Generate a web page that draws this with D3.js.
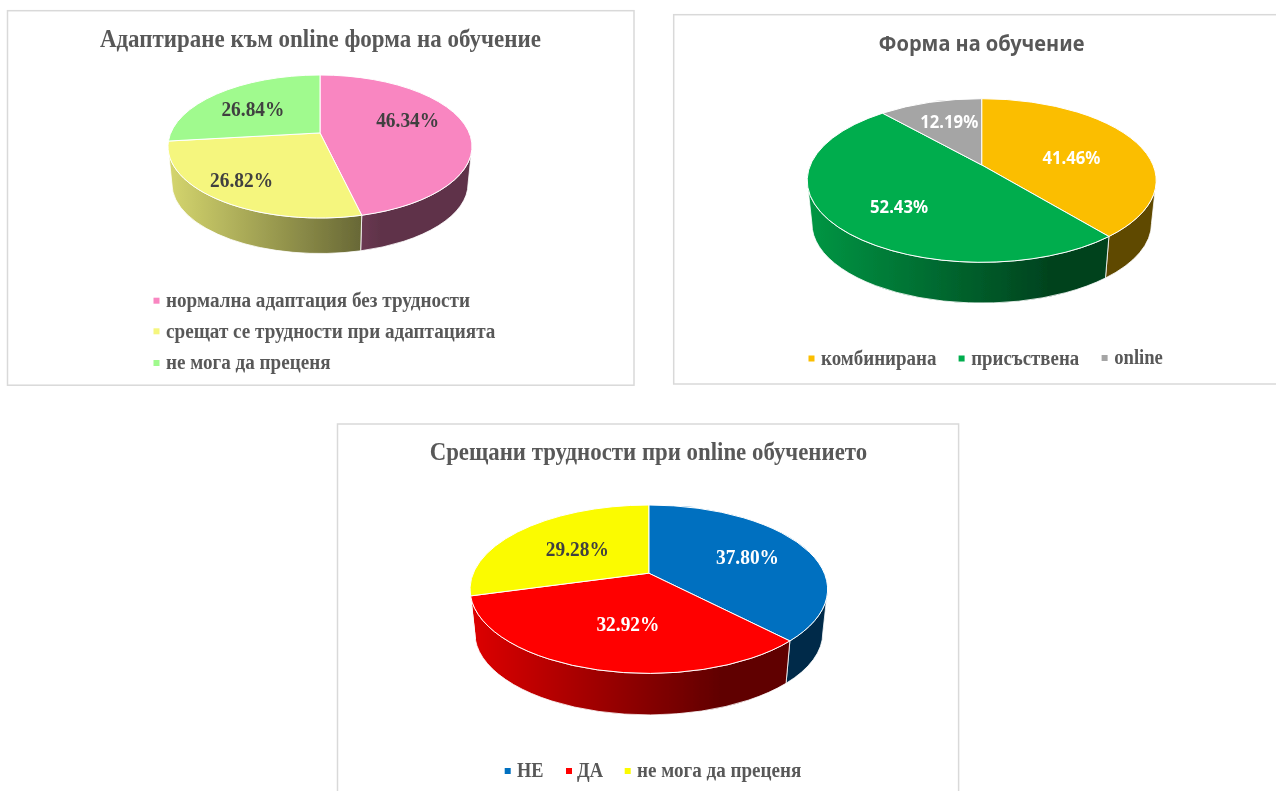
<!DOCTYPE html>
<html>
<head>
<meta charset="utf-8">
<script src="https://cdn.jsdelivr.net/npm/d3@7"></script>
<style>
html,body{margin:0;padding:0;background:#fff;overflow:hidden}
svg{display:block}
</style>
</head>
<body>
<svg id="chart" width="1276" height="791"></svg>
<script>
// ---- data ----
const adaptTitle = "Адаптиране към online форма на обучение";
const adaptCategories = ["нормална адаптация без трудности", "срещат се трудности при адаптацията", "не мога да преценя"];
const adaptValues = [46.34, 26.82, 26.84];
const adaptColors = ["#f986c1", "#f5f67e", "#a0fa8e"];

const formTitle = "Форма на обучение";
const formCategories = ["комбинирана", "присъствена", "online"];
const formValues = [41.46, 52.43, 12.19];
const formColors = ["#fbbe00", "#00ad4e", "#a5a5a5"];

const hardTitle = "Срещани трудности при online обучението";
const hardCategories = ["НЕ", "ДА", "не мога да преценя"];
const hardValues = [37.80, 32.92, 29.28];
const hardColors = ["#0070c0", "#ff0000", "#fbfb00"];

// ---- layout, kept apart from the data ----
const SERIF = "'Liberation Serif', serif";
const SANS = "'Noto Sans', 'Open Sans', sans-serif";
const charts = [
  { id:"a", title:adaptTitle, cats:adaptCategories, vals:adaptValues, cols:adaptColors,
    frame:[7.5,10.7,626.5,374.5], cx:320, cy:146.5, rx:152, ry:71.5, tilt:.19, depth:35.5, taper:.974,
    titleFont:SERIF, titlePos:[320.4,37.5,441], titleSize:26, labelFont:SERIF, labelSize:21, labelW:63,
    labelInk:["#404040","#404040","#404040"], nudge:[[-3,-8],[-19.5,8.5],[-3,2.5]],
    legend:[[153.5,300.7,166,304],[153.5,331.3,166,329.4],[153.5,363,166,164.5]], legendSize:20 },
  { id:"b", title:formTitle, cats:formCategories, vals:formValues, cols:formColors,
    frame:[673.7,14.7,640,369.3], cx:981.7, cy:180.5, rx:174.5, ry:81.8, tilt:.19, depth:40.8, taper:.973,
    titleFont:SANS, titlePos:[981.4,43,206], titleSize:22, labelFont:SANS, labelSize:18, labelW:58,
    labelInk:["#fff","#fff","#fff"], nudge:[[-6.5,8.5],[5,7.5],[1.3,-1.8]],
    legend:[[808.5,358.5,821,115.5],[958.6,358.5,971.2,108],[1101.6,358,1114.2,48.7]], legendSize:20 },
  { id:"c", title:hardTitle, cats:hardCategories, vals:hardValues, cols:hardColors,
    frame:[337.5,424,621.1,400], cx:648.8, cy:589.2, rx:178.8, ry:84.2, tilt:.19, depth:41.5, taper:.973,
    titleFont:SERIF, titlePos:[648.4,450.5,437.5], titleSize:26, labelFont:SERIF, labelSize:21, labelW:63,
    labelInk:["#fff","#fff","#404040"], nudge:[[2,1.5],[11.6,-4.2],[9.3,3.8]],
    legend:[[504.7,771,517,26.5],[566,771,577,26],[624.7,771,637,164.4]], legendSize:20 }
];

const svg = d3.select("#chart");
const defs = svg.append("defs");
defs.append("filter").attr("id", "soft")
  .attr("filterUnits", "userSpaceOnUse")
  .attr("x", 0).attr("y", 0).attr("width", 1276).attr("height", 791)
  .append("feGaussianBlur").attr("stdDeviation", .35);
const root = svg.append("g").attr("filter", "url(#soft)");
root.append("rect").attr("width", 1276).attr("height", 791).attr("fill", "#fff");

const shade = d3.scaleLinear().domain([0, .7, 1]).range([.87, .38, .38]);
const fmt = d3.format(".2f");

charts.forEach(c => {
  const g = root.append("g");
  const k = c.tilt, s = Math.sqrt(1 - k * k);

  g.append("rect").attr("x", c.frame[0]).attr("y", c.frame[1])
    .attr("width", c.frame[2]).attr("height", c.frame[3])
    .attr("fill", "#fff").attr("stroke", "#d9d9d9").attr("stroke-width", 1.5);

  g.append("text").text(c.title)
    .attr("x", c.titlePos[0]).attr("y", c.titlePos[1]).attr("dy", ".35em")
    .attr("text-anchor", "middle")
    .attr("textLength", c.titlePos[2]).attr("lengthAdjust", "spacingAndGlyphs")
    .attr("font-family", c.titleFont).attr("font-weight", 700)
    .attr("font-size", c.titleSize).attr("fill", "#595959");

  // disc point (angle from top, clockwise; fraction of radius) seen in perspective, in unit ellipse space
  const project = (theta, f) => {
    const u = f * Math.sin(theta), v = -f * Math.cos(theta), d = 1 - k * v;
    return [u * s / d, (v - k) / d];
  };
  const rimAngle = theta => {
    const [x, y] = project(theta, 1);
    let a = Math.atan2(y, x);
    if (theta > 1e-6 && a <= -Math.PI / 2 + 1e-9) a += 2 * Math.PI;
    if (a < -Math.PI / 2) a += 2 * Math.PI;
    return a;
  };

  const arcs = d3.pie().sort(null).value(d => d)(c.vals);
  const xScale = d3.scaleLinear().domain([-1, 1]).range([c.cx - c.rx, c.cx + c.rx]);
  const yScale = d3.scaleLinear().domain([-1, 1]).range([c.cy - c.ry, c.cy + c.ry]);
  const plot = g.append("g")
    .attr("transform", `translate(${c.cx},${c.cy}) scale(${c.rx},${c.ry})`);
  // the lower rim is a slightly smaller ellipse, further from the eye
  const e = c.taper, D = c.depth / c.ry + (1 - e);

  // wall gradients
  c.cols.forEach((col, i) => {
    const base = d3.rgb(col);
    const grad = defs.append("linearGradient").attr("id", `wall-${c.id}-${i}`)
      .attr("gradientUnits", "userSpaceOnUse")
      .attr("x1", -1).attr("x2", 1).attr("y1", 0).attr("y2", 0);
    shade.domain().forEach(t => {
      const m = shade(t);
      grad.append("stop").attr("offset", t)
        .attr("stop-color", d3.rgb(base.r * m, base.g * m, base.b * m).formatRgb());
    });
  });

  // side walls: only the front half of the rim shows
  plot.selectAll("path.wall").data(arcs).join("path").attr("class", "wall")
    .attr("d", d => {
      const a = Math.max(rimAngle(d.startAngle), 0), b = Math.min(rimAngle(d.endAngle), Math.PI);
      if (b <= a) return null;
      const p = d3.path();
      p.moveTo(Math.cos(a), Math.sin(a));
      p.arc(0, 0, 1, a, b);
      p.lineTo(e * Math.cos(b), e * Math.sin(b) + D);
      p.arc(0, D, e, b, a, true);
      p.closePath();
      return p.toString();
    })
    .attr("fill", d => `url(#wall-${c.id}-${d.index})`)
    .attr("stroke", "#fff").attr("stroke-width", .8)
    .attr("vector-effect", "non-scaling-stroke");

  // top face
  plot.selectAll("path.top").data(arcs).join("path").attr("class", "top")
    .attr("d", d => {
      const a = rimAngle(d.startAngle), b = rimAngle(d.endAngle);
      const p = d3.path();
      p.moveTo(0, -k);
      p.lineTo(Math.cos(a), Math.sin(a));
      p.arc(0, 0, 1, a, b);
      p.closePath();
      return p.toString();
    })
    .attr("fill", (d, i) => c.cols[i])
    .attr("stroke", "#fff").attr("stroke-width", 1)
    .attr("stroke-linejoin", "round")
    .attr("vector-effect", "non-scaling-stroke");

  // value labels
  g.selectAll("text.val").data(arcs).join("text").attr("class", "val")
    .text(d => fmt(d.data) + "%")
    .attr("x", d => xScale(project((d.startAngle + d.endAngle) / 2, .62)[0]) + c.nudge[d.index][0])
    .attr("y", d => yScale(project((d.startAngle + d.endAngle) / 2, .62)[1]) + c.nudge[d.index][1])
    .attr("dy", ".35em").attr("text-anchor", "middle")
    .attr("textLength", c.labelW).attr("lengthAdjust", "spacingAndGlyphs")
    .attr("font-family", c.labelFont).attr("font-weight", 700)
    .attr("font-size", c.labelSize)
    .attr("fill", d => c.labelInk[d.index]);

  // legend
  const leg = g.selectAll("g.leg").data(c.cats).join("g").attr("class", "leg");
  leg.append("rect")
    .attr("x", (d, i) => c.legend[i][0]).attr("y", (d, i) => c.legend[i][1] - 3)
    .attr("width", 6).attr("height", 6)
    .attr("fill", (d, i) => c.cols[i]);
  leg.append("text").text(d => d)
    .attr("x", (d, i) => c.legend[i][2]).attr("y", (d, i) => c.legend[i][1])
    .attr("dy", ".32em")
    .attr("textLength", (d, i) => c.legend[i][3]).attr("lengthAdjust", "spacingAndGlyphs")
    .attr("font-family", SERIF).attr("font-weight", 700)
    .attr("font-size", c.legendSize).attr("fill", "#595959");
});
</script>
</body>
</html>
